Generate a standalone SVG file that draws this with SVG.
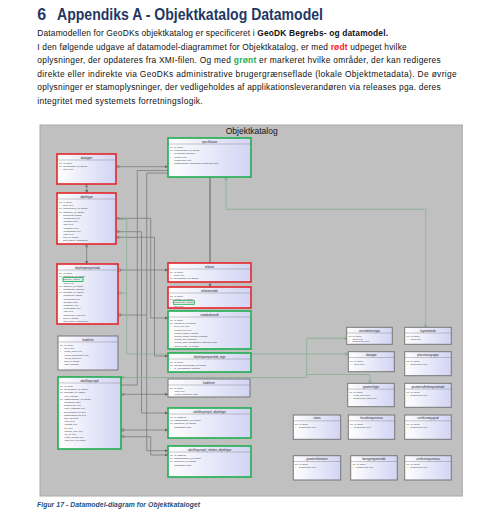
<svg xmlns="http://www.w3.org/2000/svg" width="485" height="528" viewBox="0 0 485 528">
<defs>
<linearGradient id="nf" x1="0" y1="0" x2="1" y2="0"><stop offset="0" stop-color="#ffffff"/><stop offset="1" stop-color="#d2d4f4"/></linearGradient>
<marker id="a" viewBox="0 0 6 6" refX="6" refY="3" markerWidth="3.5" markerHeight="3.5" orient="auto" markerUnits="userSpaceOnUse"><path d="M0,0L6,3L0,6z" fill="#666"/></marker>
<marker id="o" viewBox="0 0 6 6" refX="0" refY="3" markerWidth="3.5" markerHeight="3.5" orient="auto" markerUnits="userSpaceOnUse"><circle cx="3" cy="3" r="2.3" fill="none" stroke="#666" stroke-width="1"/></marker>
<marker id="ag" viewBox="0 0 6 6" refX="6" refY="3" markerWidth="3.5" markerHeight="3.5" orient="auto" markerUnits="userSpaceOnUse"><path d="M0,0L6,3L0,6" fill="none" stroke="#6fa57f" stroke-width="1"/></marker>
<marker id="og" viewBox="0 0 6 6" refX="0" refY="3" markerWidth="3.5" markerHeight="3.5" orient="auto" markerUnits="userSpaceOnUse"><circle cx="3" cy="3" r="2.3" fill="none" stroke="#6fa57f" stroke-width="1"/></marker>
</defs>
<style>
.h1{font-family:"Liberation Sans",Arial,sans-serif;font-weight:bold;font-size:16px;fill:#1f3864}
.p{font-family:"Liberation Sans",Arial,sans-serif;font-size:8.4px;fill:#111}
.cap{font-family:"Liberation Sans",Arial,sans-serif;font-style:italic;font-weight:bold;font-size:6.8px;fill:#1f4e79}
.ft{font-family:"Liberation Sans",Arial,sans-serif;font-size:8.5px;fill:#111;text-anchor:middle}
.nb{fill:url(#nf);stroke:#777;stroke-width:1}
.rb{fill:url(#nf);stroke:#e5262a;stroke-width:1.6}
.gb{fill:url(#nf);stroke:#1fae4e;stroke-width:1.6}
.hl{fill:none;stroke:#1fae4e;stroke-width:0.9}
.nt{font-family:"Liberation Sans",Arial,sans-serif;font-size:2.8px;text-anchor:middle;fill:#222}
.at{font-family:"Liberation Sans",Arial,sans-serif;font-size:2.3px;fill:#333;white-space:pre}
.sep{stroke:#777;stroke-width:0.4}
.c{fill:none;stroke:#7b7b7b;stroke-width:0.8}
.ct{fill:none;stroke:#7b7b7b;stroke-width:1.4}
.cg{fill:none;stroke:#86b092;stroke-width:0.8}
</style>
<rect width="485" height="528" fill="#ffffff"/>
<text class="h1" x="37.3" y="20">6</text>
<text class="h1" x="57" y="20" textLength="266" lengthAdjust="spacingAndGlyphs">Appendiks A - Objektkatalog Datamodel</text>
<text class="p" x="37.3" y="36" textLength="350.7">Datamodellen for GeoDKs objektkatalog er specificeret i <tspan font-weight="bold">GeoDK Begrebs- og datamodel.</tspan></text>
<text class="p" x="37.3" y="49.5" textLength="369.4">I den følgende udgave af datamodel-diagrammet for Objektkatalog, er med <tspan font-weight="bold" fill="#ff1a1a">rødt</tspan> udpeget hvilke</text>
<text class="p" x="37.3" y="63" textLength="403.4">oplysninger, der opdateres fra XMI-filen. Og med <tspan font-weight="bold" fill="#1fae4e">grønt</tspan> er markeret hvilke områder, der kan redigeres</text>
<text class="p" x="37.3" y="76.5" textLength="419.4">direkte eller indirekte via GeoDKs administrative brugergrænseflade (lokale Objektmetadata). De øvrige</text>
<text class="p" x="37.3" y="90" textLength="403.4">oplysninger er stamoplysninger, der vedligeholdes af applikationsleverandøren via releases pga. deres</text>
<text class="p" x="37.3" y="103.5" textLength="165.4">integritet med systemets forretningslogik.</text>

<rect x="40" y="125" width="422.3" height="371" fill="#c0c0c0" stroke="#a8a8a8" stroke-width="1"/>
<text class="ft" x="251.7" y="134">Objektkatalog</text>

<g id="connectors">
<path class="c" d="M116,166.7H168" marker-start="url(#o)" marker-end="url(#a)"/>
<path class="c" d="M86.7,184V193" marker-start="url(#o)" marker-end="url(#a)"/>
<path class="c" d="M86.7,244V264" marker-start="url(#o)" marker-end="url(#a)"/>
<path class="c" d="M168,170.5H137.3V385H121" marker-start="url(#a)"/>
<path class="c" d="M168,173H146.7V450.7H168" marker-start="url(#a)" marker-end="url(#a)"/>
<path class="c" d="M116,218.3H150.7V318H168" marker-start="url(#o)" marker-end="url(#a)"/>
<path class="c" d="M116,231.7H141.5V413H168" marker-start="url(#o)" marker-end="url(#a)"/>
<path class="c" d="M116,237.3H154.5V356H168" marker-start="url(#o)" marker-end="url(#a)"/>
<path class="c" d="M118,270H168" marker-start="url(#o)" marker-end="url(#a)"/>
<path class="c" d="M118,315H146.7" marker-start="url(#o)"/>
<path class="c" d="M121,394.3H168" marker-start="url(#o)" marker-end="url(#a)"/>
<path class="c" d="M121,430H168" marker-start="url(#o)" marker-end="url(#a)"/>
<path class="c" d="M121,436.7H150.7V455H168" marker-start="url(#o)" marker-end="url(#a)"/>
<path class="ct" d="M210,177V263" marker-end="url(#o)"/>
<path class="c" d="M210,282V287" marker-end="url(#a)"/>
<path class="cg" d="M226,177V209.3H425.7V327.3" marker-start="url(#og)" marker-end="url(#ag)"/>
<path class="cg" d="M116,219.5H126.7V354H348.3" marker-end="url(#ag)"/>
<path class="cg" d="M118,293H126.7" marker-start="url(#og)"/>
<path class="cg" d="M121,377.5H306.7V338.3H346.7" marker-start="url(#og)" marker-end="url(#ag)"/>
<path class="cg" d="M306.7,374.5H370V383.3" marker-end="url(#ag)"/>
</g>

<g id="datatyper"><rect class="rb" x="57" y="154" width="59" height="30"/><text class="nt" x="86.5" y="158.5">datatyper</text><line class="sep" x1="57" y1="160" x2="116" y2="160"/>
<text class="at"><tspan x="59" y="164">PK  id: serial</tspan><tspan x="59" y="167.2">FK  specifikation_id: integer</tspan><tspan x="59" y="170.4">*     navn: text</tspan></text></g>

<g id="objekttype"><rect class="rb" x="57" y="193" width="59" height="51"/><text class="nt" x="86.5" y="197.5">objekttype</text><line class="sep" x1="57" y1="199" x2="116" y2="199"/>
<text class="at"><tspan x="59" y="203">PK  id: serial</tspan><tspan x="59" y="206.2">*     navn: text</tspan><tspan x="59" y="209.4">FK  geometritype_id: integer</tspan><tspan x="59" y="212.6">FK  datatyper_id: integer</tspan><tspan x="59" y="215.8">*     minoccurs: integer</tspan><tspan x="59" y="219">       maxoccurs: text</tspan><tspan x="59" y="222.2">       definition: text</tspan><tspan x="59" y="225.4">       note: text</tspan><tspan x="59" y="228.6">       eksempel: text</tspan><tspan x="59" y="231.8">       lovgrundlag: text</tspan><tspan x="59" y="235">       kilde: text</tspan><tspan x="59" y="238.2">*     sort_nr: integer</tspan><tspan x="59" y="241.4">*     sort_kriterie: varchar(10)</tspan></text></g>

<g id="objekttypeegenskab"><rect class="rb" x="57" y="264" width="61" height="60"/><text class="nt" x="87.5" y="268.5">objekttypeegenskab</text><line class="sep" x1="57" y1="270" x2="118" y2="270"/>
<rect class="hl" x="63" y="277.6" width="20" height="3.8"/>
<text class="at"><tspan x="59" y="274">PK  id: serial</tspan><tspan x="59" y="277.2">FK  objekttype_id: integer</tspan><tspan x="59" y="280.4">*     datatype: integer</tspan><tspan x="59" y="283.6">       navn: text</tspan><tspan x="59" y="286.8">FK  datatype_id: integer</tspan><tspan x="59" y="290">*     obligatorisk: boolean</tspan><tspan x="59" y="293.2">FK  kodeliste_id: integer</tspan><tspan x="59" y="296.4">       minoccurs: integer</tspan><tspan x="59" y="299.6">       maxoccurs: text</tspan><tspan x="59" y="302.8">       definition: text</tspan><tspan x="59" y="306">       eksempel: text</tspan><tspan x="59" y="309.2">       lovgrundlag: text</tspan><tspan x="59" y="312.4">       note: text</tspan><tspan x="59" y="315.6">       beskrivelse_kort: text</tspan><tspan x="59" y="318.8">*     sort_nr: integer</tspan><tspan x="59" y="322">       sort_kriterie: varchar(10)</tspan></text></g>

<g id="kodeliste"><rect class="nb" x="58" y="336" width="60" height="34"/><text class="nt" x="88" y="340.5">kodeliste</text><line class="sep" x1="58" y1="342" x2="118" y2="342"/>
<text class="at"><tspan x="60" y="346">PK  id: serial</tspan><tspan x="60" y="349.2">*     navn: text</tspan><tspan x="60" y="352.4">*     vaerdi_navn: text</tspan><tspan x="60" y="355.6">       vaerdi_beskrivelse: text</tspan><tspan x="60" y="358.8">       vaerdi_kort: text</tspan><tspan x="60" y="362">*     sort_nr: integer</tspan><tspan x="60" y="365.2">       aktiv: boolean</tspan></text></g>

<g id="udstillingsregel"><rect class="gb" x="58" y="377" width="63" height="72"/><text class="nt" x="89.5" y="381.5">udstillingsregel</text><line class="sep" x1="58" y1="383" x2="121" y2="383"/>
<text class="at"><tspan x="60" y="387">PK  id: serial</tspan><tspan x="60" y="390.2">FK  specifikation_id: integer</tspan><tspan x="60" y="393.4">FK  kodelister_id: integer</tspan><tspan x="60" y="396.6">       type: varchar</tspan><tspan x="60" y="399.8">FK  udstillingsregel_id: integer</tspan><tspan x="60" y="403">       betingelse: json</tspan><tspan x="60" y="406.2">*     beskrivelse: text</tspan><tspan x="60" y="409.4">       regel_udstilling: text</tspan><tspan x="60" y="412.6">*     specifikation_ref: text</tspan><tspan x="60" y="415.8">*     udstillingsniveau: text</tspan><tspan x="60" y="419">*     aktiv: boolean</tspan><tspan x="60" y="422.2">       navn: text</tspan><tspan x="60" y="425.4">       resultat: text</tspan><tspan x="60" y="428.6">       fejl: text</tspan><tspan x="60" y="431.8">       besked_type: text</tspan><tspan x="60" y="435">       ret_uri: text</tspan><tspan x="60" y="438.2">       rettes_senest: text</tspan><tspan x="60" y="441.4">       udst_type_id: integer</tspan></text></g>

<g id="specifikation"><rect class="gb" x="168" y="138" width="83" height="39"/><text class="nt" x="209.5" y="142.5">specifikation</text><line class="sep" x1="168" y1="144" x2="251" y2="144"/>
<text class="at"><tspan x="170" y="148">PK  id: serial</tspan><tspan x="170" y="151.2">FK  tegnregelsaet_id: integer</tspan><tspan x="170" y="154.4">*     geometrisk: boolean</tspan><tspan x="170" y="157.6">*     version: text</tspan><tspan x="170" y="160.8">       beskrivelse: text</tspan><tspan x="170" y="164">*     ikrafttraedelse: timestamp(6) with time zone</tspan></text></g>

<g id="relation"><rect class="rb" x="168" y="263" width="83" height="19"/><text class="nt" x="209.5" y="267.5">relation</text><line class="sep" x1="168" y1="269" x2="251" y2="269"/>
<text class="at"><tspan x="170" y="273">PK  id: serial</tspan><tspan x="170" y="276.2">*     navn: text</tspan><tspan x="170" y="279.4">FK  specifikation_id: integer</tspan></text></g>

<g id="relationsende"><rect class="rb" x="168" y="287" width="83" height="21"/><text class="nt" x="209.5" y="291.5">relationsende</text><line class="sep" x1="168" y1="293" x2="251" y2="293"/>
<rect class="hl" x="173.3" y="300.7" width="21" height="3.6"/>
<text class="at"><tspan x="170" y="297">PK  id: serial</tspan><tspan x="170" y="300.2">FK  relation_id: integer</tspan><tspan x="170" y="303.4">*     kardinalitet: integer</tspan><tspan x="170" y="306.6">*     rolle: text</tspan></text></g>

<g id="standardvaerdi"><rect class="gb" x="168" y="311" width="83" height="38"/><text class="nt" x="209.5" y="315.5">standardvaerdi</text><line class="sep" x1="168" y1="317" x2="251" y2="317"/>
<text class="at"><tspan x="170" y="321">PK  id: serial</tspan><tspan x="170" y="324.2">FK  objekttype_id: integer</tspan><tspan x="170" y="327.4">*     navn_kort: text</tspan><tspan x="170" y="330.6">       default_text: text</tspan><tspan x="170" y="333.8">       default_integer: integer</tspan><tspan x="170" y="337">       default_double: double precision</tspan><tspan x="170" y="340.2">       default_bool: boolean</tspan><tspan x="170" y="343.4">       default_dato: timestamp(6) with time zone</tspan><tspan x="170" y="346.6">       default_kode_id: integer</tspan></text></g>

<g id="objekttypeegenskab_tegn"><rect class="gb" x="168" y="353" width="83" height="19"/><text class="nt" x="209.5" y="357.5">objekttypeegenskab_tegn</text><line class="sep" x1="168" y1="359" x2="251" y2="359"/>
<text class="at"><tspan x="170" y="363">PK  id: serial</tspan><tspan x="170" y="366.2">FK  objekttypeegenskab_id: integer</tspan><tspan x="170" y="369.4">*     er_visningsnavn: boolean</tspan></text></g>

<g id="kodelister"><rect class="nb" x="168" y="379" width="82" height="18"/><text class="nt" x="209" y="383.5">kodelister</text><line class="sep" x1="168" y1="385" x2="250" y2="385"/>
<text class="at"><tspan x="170" y="389">PK  id: serial</tspan><tspan x="170" y="392.2">       navn: text</tspan><tspan x="170" y="395.4">       vaerdi_parameter: json</tspan></text></g>

<g id="udstillingsregel_objekttype"><rect class="gb" x="168" y="408" width="83" height="30"/><text class="nt" x="209.5" y="412.5">udstillingsregel_objekttype</text><line class="sep" x1="168" y1="414" x2="251" y2="414"/>
<text class="at"><tspan x="170" y="418">PK  id: bigserial</tspan><tspan x="170" y="421.2">FK  udstillingsregel_id: integer</tspan><tspan x="170" y="424.4">FK  objekttype_id: integer</tspan><tspan x="170" y="427.6">       attributfilter: json</tspan></text></g>

<g id="udstillingsregel_relation_objekttype"><rect class="gb" x="168" y="446" width="83" height="31"/><text class="nt" x="209.5" y="450.5">udstillingsregel_relation_objekttype</text><line class="sep" x1="168" y1="452" x2="251" y2="452"/>
<text class="at"><tspan x="170" y="456">PK  id: bigserial</tspan><tspan x="170" y="459.2">FK  udstillingsregel_id: integer</tspan><tspan x="170" y="462.4">FK  objekttype_id: integer</tspan><tspan x="170" y="465.6">       attributfilter: json</tspan></text></g>

<g id="anvendelsestype"><rect class="nb" x="346.7" y="327.3" width="45.6" height="17"/><text class="nt" x="369.5" y="331.5">anvendelsestype</text><line class="sep" x1="346.7" y1="333" x2="392.3" y2="333"/>
<text class="at"><tspan x="348.5" y="336.8">PK  id: serial</tspan><tspan x="348.5" y="339.6">*     navn: text</tspan><tspan x="348.5" y="342.4">*     beskrivelse: text</tspan></text></g>

<g id="lagermetode"><rect class="nb" x="404.7" y="327.3" width="46.6" height="17"/><text class="nt" x="428" y="331.5">lagermetode</text><line class="sep" x1="404.7" y1="333" x2="451.3" y2="333"/>
<text class="at"><tspan x="406.5" y="336.8">PK  id: serial</tspan><tspan x="406.5" y="339.6">*     navn: text</tspan></text></g>

<g id="datatype"><rect class="nb" x="348.3" y="351.7" width="46" height="20"/><text class="nt" x="371.3" y="356">datatype</text><line class="sep" x1="348.3" y1="357.5" x2="394.3" y2="357.5"/>
<text class="at"><tspan x="350" y="361.5">PK  id: serial</tspan><tspan x="350" y="364.5">*     navn: text</tspan></text></g>

<g id="planstatusgruppe"><rect class="nb" x="404.7" y="351.7" width="46.6" height="24"/><text class="nt" x="428" y="356">planstatusgruppe</text><line class="sep" x1="404.7" y1="357.5" x2="451.3" y2="357.5"/>
<text class="at"><tspan x="406.5" y="361.5">PK  id: serial</tspan><tspan x="406.5" y="364.5">*     beskrivelse: text</tspan></text></g>

<g id="geometritype"><rect class="nb" x="347.7" y="383.3" width="46.6" height="23.4"/><text class="nt" x="371" y="387.6">geometritype</text><line class="sep" x1="347.7" y1="389.1" x2="394.3" y2="389.1"/>
<text class="at"><tspan x="349.5" y="393">PK  id: serial</tspan><tspan x="349.5" y="396">*     epsg_navn: text</tspan><tspan x="349.5" y="399">*     beskrivelse_navn: text</tspan></text></g>

<g id="geometriafledningsmetode"><rect class="nb" x="404.7" y="383.3" width="46.6" height="24"/><text class="nt" x="428" y="387.6">geometriafledningsmetode</text><line class="sep" x1="404.7" y1="389.1" x2="451.3" y2="389.1"/>
<text class="at"><tspan x="406.5" y="393">PK  id: serial</tspan><tspan x="406.5" y="396">*     beskrivelse: text</tspan></text></g>

<g id="status"><rect class="nb" x="293.3" y="415" width="47.4" height="24.3"/><text class="nt" x="317" y="419.3">status</text><line class="sep" x1="293.3" y1="420.8" x2="340.7" y2="420.8"/>
<text class="at"><tspan x="295" y="424.7">PK  id: serial</tspan><tspan x="295" y="427.7">*     beskrivelse: text</tspan></text></g>

<g id="forvaltningsniveau"><rect class="nb" x="348.3" y="415" width="46.4" height="24.3"/><text class="nt" x="371.5" y="419.3">forvaltningsniveau</text><line class="sep" x1="348.3" y1="420.8" x2="394.7" y2="420.8"/>
<text class="at"><tspan x="350" y="424.7">PK  id: serial</tspan><tspan x="350" y="427.7">*     beskrivelse: text</tspan></text></g>

<g id="certificeringsgrad"><rect class="nb" x="404.7" y="415" width="46.6" height="24.3"/><text class="nt" x="428" y="419.3">certificeringsgrad</text><line class="sep" x1="404.7" y1="420.8" x2="451.3" y2="420.8"/>
<text class="at"><tspan x="406.5" y="424.7">PK  id: serial</tspan><tspan x="406.5" y="427.7">*     beskrivelse: text</tspan></text></g>

<g id="geometriformater"><rect class="nb" x="293.3" y="455.7" width="47.4" height="24.3"/><text class="nt" x="317" y="460">geometriformater</text><line class="sep" x1="293.3" y1="461.5" x2="340.7" y2="461.5"/>
<text class="at"><tspan x="295" y="465.4">PK  id: serial</tspan><tspan x="295" y="468.4">*     beskrivelse: text</tspan></text></g>

<g id="beregningsmetode"><rect class="nb" x="350.7" y="455.7" width="46.6" height="24.3"/><text class="nt" x="374" y="460">beregningsmetode</text><line class="sep" x1="350.7" y1="461.5" x2="397.3" y2="461.5"/>
<text class="at"><tspan x="352.5" y="465.4">PK  id: serial</tspan><tspan x="352.5" y="468.4">*     beskrivelse: text</tspan></text></g>

<g id="certificeringsniveau"><rect class="nb" x="404.7" y="455.7" width="46.6" height="24.3"/><text class="nt" x="428" y="460">certificeringsniveau</text><line class="sep" x1="404.7" y1="461.5" x2="451.3" y2="461.5"/>
<text class="at"><tspan x="406.5" y="465.4">PK  id: serial</tspan><tspan x="406.5" y="468.4">*     beskrivelse: text</tspan></text></g>

<text class="cap" x="37" y="507" textLength="163">Figur 17 - Datamodel-diagram for Objektkataloget</text>
</svg>
